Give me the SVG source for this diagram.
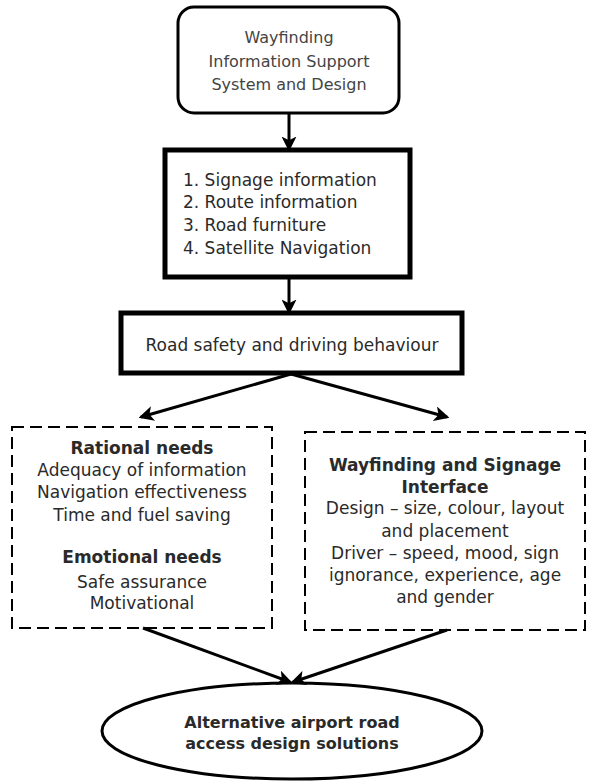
<svg xmlns="http://www.w3.org/2000/svg" width="589" height="783" viewBox="0 0 589 783">
<style>
text{font-family:"DejaVu Sans","Liberation Sans",Arial,sans-serif;fill:#2a2a2a;font-size:17px}
.c{text-anchor:middle}
.b{font-weight:bold}
.solid{fill:#fff;stroke:#000}
.dash{fill:#fff;stroke:#000;stroke-width:2;stroke-dasharray:12 6}
.con{stroke:#000;stroke-width:3;fill:none;marker-end:url(#ah)}
</style>
<defs>
<marker id="ah" viewBox="0 0 12 12" refX="10" refY="6" markerWidth="5" markerHeight="5" orient="auto" markerUnits="strokeWidth">
<path d="M0,0 L12,6 L0,12 L3,6 z" fill="#000"/>
</marker>
</defs>
<g id="n1">
<rect class="solid" x="178" y="7" width="221" height="106" rx="16" stroke-width="3"/>
<text class="c" x="289" y="43" style="fill:#444;font-size:16px">Wayfinding</text>
<text class="c" x="289" y="67" style="fill:#444;font-size:16px">Information Support</text>
<text class="c" x="289" y="90" style="fill:#444;font-size:16px">System and Design</text>
</g>
<g id="n2">
<rect class="solid" x="165" y="150" width="245" height="127" stroke-width="5"/>
<text x="183" y="186">1. Signage information</text>
<text x="183" y="208">2. Route information</text>
<text x="183" y="231">3. Road furniture</text>
<text x="183" y="254">4. Satellite Navigation</text>
</g>
<g id="n3">
<rect class="solid" x="121" y="313" width="341" height="60" stroke-width="5"/>
<text class="c" x="292" y="351">Road safety and driving behaviour</text>
</g>
<g id="n4">
<rect class="dash" x="12" y="427" width="260" height="201"/>
<text class="c b" x="142" y="454">Rational needs</text>
<text class="c" x="142" y="476">Adequacy of information</text>
<text class="c" x="142" y="498">Navigation effectiveness</text>
<text class="c" x="142" y="521">Time and fuel saving</text>
<text class="c b" x="142" y="563">Emotional needs</text>
<text class="c" x="142" y="588">Safe assurance</text>
<text class="c" x="142" y="609">Motivational</text>
</g>
<g id="n5">
<rect class="dash" x="305" y="432" width="280" height="198"/>
<text class="c b" x="445" y="471">Wayfinding and Signage</text>
<text class="c b" x="445" y="493">Interface</text>
<text class="c" x="445" y="514">Design – size, colour, layout</text>
<text class="c" x="445" y="537">and placement</text>
<text class="c" x="445" y="559">Driver – speed, mood, sign</text>
<text class="c" x="445" y="581">ignorance, experience, age</text>
<text class="c" x="445" y="603">and gender</text>
</g>
<g id="n6">
<ellipse class="solid" cx="292" cy="731" rx="190" ry="48" stroke-width="3"/>
<text class="c b" x="292" y="728" style="font-size:16px">Alternative airport road</text>
<text class="c b" x="292" y="749" style="font-size:16px">access design solutions</text>
</g>
<g id="connectors">
<line class="con" x1="289" y1="113" x2="289" y2="149"/>
<line class="con" x1="289" y1="277" x2="289" y2="312"/>
<line class="con" x1="291" y1="374" x2="141" y2="417"/>
<line class="con" x1="291" y1="374" x2="447" y2="417"/>
<line class="con" x1="143" y1="628" x2="290" y2="682"/>
<line class="con" x1="447" y1="630" x2="293" y2="682"/>
</g>
</svg>
